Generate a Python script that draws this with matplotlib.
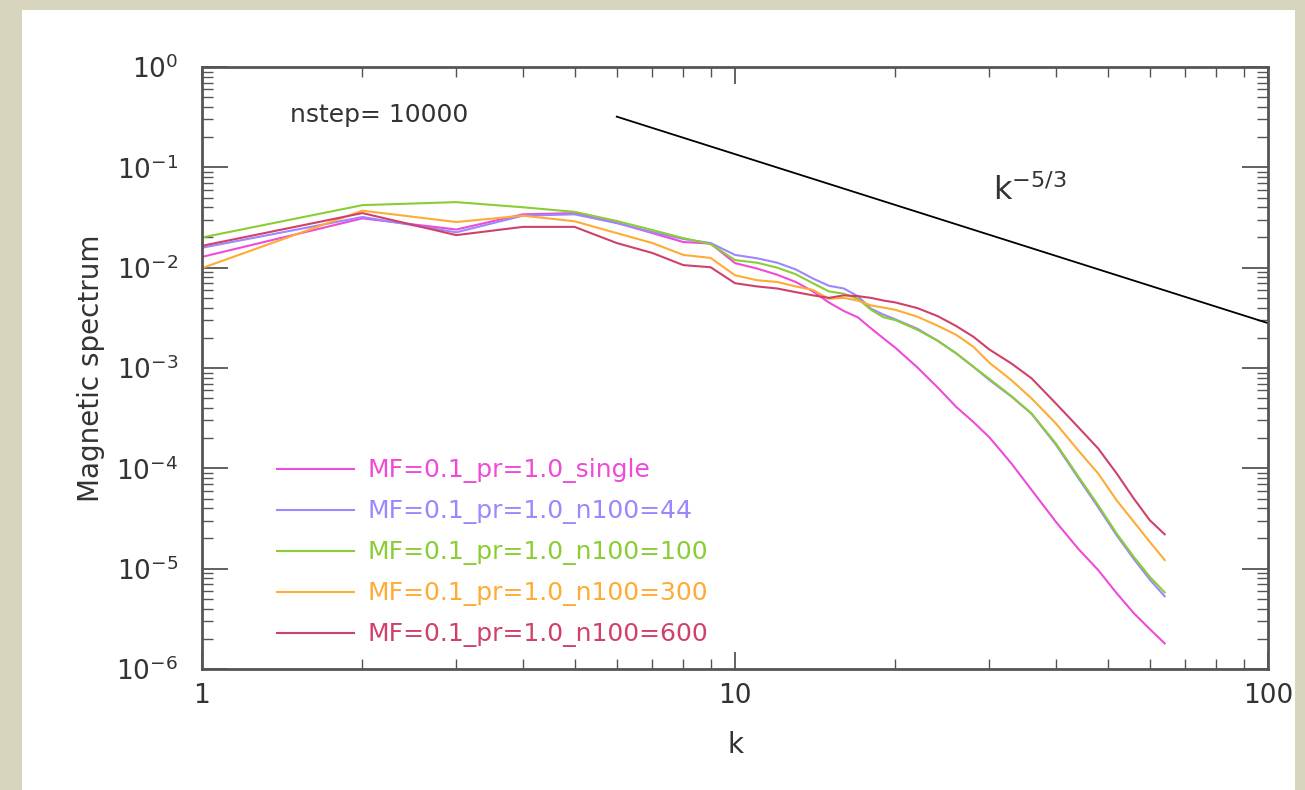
import matplotlib
matplotlib.use("Agg")
import matplotlib.pyplot as plt
from matplotlib.patches import Rectangle
from matplotlib.ticker import LogLocator, NullFormatter

# wavenumbers
k = [1, 2, 3, 4, 5, 6, 7, 8, 9, 10, 11, 12, 13, 14, 15, 16, 17, 18, 19, 20,
     22, 24, 26, 28, 30, 33, 36, 40, 44, 48, 52, 56, 60, 64]

E_single = [1.28e-2, 3.1e-2, 2.4e-2, 3.4e-2, 3.5e-2, 2.8e-2, 2.21e-2, 1.8e-2, 1.74e-2, 1.11e-2,
            9.8e-3, 8.5e-3, 7.2e-3, 5.8e-3, 4.5e-3, 3.7e-3, 3.2e-3, 2.48e-3, 1.97e-3, 1.59e-3,
            1.01e-3, 6.4e-4, 4.1e-4, 2.9e-4, 2.04e-4, 1.12e-4, 6.1e-5, 2.93e-5, 1.59e-5, 9.7e-6,
            5.7e-6, 3.6e-6, 2.5e-6, 1.8e-6]
E_n44 = [1.58e-2, 3.2e-2, 2.25e-2, 3.3e-2, 3.4e-2, 2.78e-2, 2.26e-2, 1.93e-2, 1.76e-2, 1.34e-2,
         1.24e-2, 1.12e-2, 9.6e-3, 7.8e-3, 6.6e-3, 6.2e-3, 5.2e-3, 3.9e-3, 3.4e-3, 3.05e-3,
         2.46e-3, 1.87e-3, 1.4e-3, 1.03e-3, 7.6e-4, 5.2e-4, 3.5e-4, 1.72e-4, 8.1e-5, 4.1e-5,
         2.15e-5, 1.25e-5, 7.8e-6, 5.3e-6]
E_n100 = [2.0e-2, 4.2e-2, 4.5e-2, 4.0e-2, 3.6e-2, 2.92e-2, 2.37e-2, 1.97e-2, 1.72e-2, 1.19e-2,
          1.12e-2, 1.0e-2, 8.6e-3, 7.0e-3, 5.8e-3, 5.5e-3, 4.9e-3, 3.8e-3, 3.2e-3, 3.0e-3,
          2.4e-3, 1.87e-3, 1.4e-3, 1.03e-3, 7.8e-4, 5.25e-4, 3.52e-4, 1.77e-4, 8.4e-5, 4.3e-5,
          2.24e-5, 1.31e-5, 8.3e-6, 5.8e-6]
E_n300 = [9.9e-3, 3.7e-2, 2.85e-2, 3.3e-2, 2.9e-2, 2.21e-2, 1.76e-2, 1.34e-2, 1.25e-2, 8.4e-3,
          7.5e-3, 7.2e-3, 6.5e-3, 6.0e-3, 4.9e-3, 5.0e-3, 4.7e-3, 4.2e-3, 4.0e-3, 3.8e-3,
          3.24e-3, 2.64e-3, 2.14e-3, 1.63e-3, 1.13e-3, 7.57e-4, 4.98e-4, 2.8e-4, 1.52e-4, 8.9e-5,
          4.8e-5, 2.93e-5, 1.85e-5, 1.22e-5]
E_n600 = [1.65e-2, 3.5e-2, 2.11e-2, 2.55e-2, 2.55e-2, 1.76e-2, 1.4e-2, 1.06e-2, 1.01e-2, 7.0e-3,
          6.5e-3, 6.2e-3, 5.7e-3, 5.3e-3, 5.0e-3, 5.3e-3, 5.2e-3, 5.0e-3, 4.7e-3, 4.5e-3,
          3.95e-3, 3.29e-3, 2.62e-3, 2.05e-3, 1.53e-3, 1.11e-3, 7.9e-4, 4.43e-4, 2.59e-4, 1.58e-4,
          8.9e-5, 5.0e-5, 3.04e-5, 2.2e-5]

series = [E_single, E_n44, E_n100, E_n300, E_n600]
labels = ["MF=0.1_pr=1.0_single", "MF=0.1_pr=1.0_n100=44", "MF=0.1_pr=1.0_n100=100",
          "MF=0.1_pr=1.0_n100=300", "MF=0.1_pr=1.0_n100=600"]
colors = ["#f04ad8", "#9d86ff", "#8acd35", "#ffab35", "#d0416a"]

# k^-5/3 guide line
ref_k = [6, 100]
ref_E = [0.32, 0.0028]

xtick_vals = [1, 10, 100]
xtick_labels = ["1", "10", "100"]

plt.rcParams["font.family"] = ["DejaVu Sans"]
text_col = "#333333"

fig = plt.figure(figsize=(13.05, 7.9), dpi=100, facecolor="#d8d5bf")
fig.patches.append(Rectangle((22 / 1305, 0), (1295 - 22) / 1305, 1 - 10 / 790,
                             transform=fig.transFigure, facecolor="white",
                             edgecolor="none", zorder=-5))

ax = fig.add_axes([202 / 1305, 1 - 669 / 790, (1268 - 202) / 1305, (669 - 67) / 790])
ax.set_facecolor("white")

for E, lab, c in zip(series, labels, colors):
    ax.plot(k, E, color=c, lw=1.5, label=lab)

ax.plot(ref_k, ref_E, color="black", lw=1.3)

ax.set_xscale("log")
ax.set_yscale("log")
ax.set_xlim(1, 100)
ax.set_ylim(1e-6, 1)

ax.set_xticks(xtick_vals, labels=xtick_labels)
ax.xaxis.set_minor_locator(LogLocator(base=10, subs=range(2, 10)))
ax.xaxis.set_minor_formatter(NullFormatter())
ax.yaxis.set_major_locator(LogLocator(base=10, numticks=10))
ax.yaxis.set_minor_locator(LogLocator(base=10, subs=range(2, 10), numticks=10))
ax.yaxis.set_minor_formatter(NullFormatter())

ax.tick_params(which="both", direction="in", top=True, right=True, colors="#555555",
               labelcolor=text_col, labelsize=19)
ax.tick_params(axis="y", which="major", length=19, width=1.3, pad=17)
ax.tick_params(axis="y", which="minor", length=8, width=1.0)
ax.tick_params(axis="x", which="major", length=12, width=1.3, pad=10)
ax.tick_params(axis="x", which="minor", length=7, width=1.0)
for s in ax.spines.values():
    s.set_color("#555555")
    s.set_linewidth(2)

ax.set_xlabel("k", fontsize=20, color=text_col, labelpad=16)
ax.set_ylabel("Magnetic spectrum", fontsize=20, color=text_col, labelpad=8)

ax.text(0.083, 0.92, "nstep= 10000", transform=ax.transAxes, fontsize=18,
        color=text_col, va="center", ha="left")
ax.text(0.742, 0.795, r"k$^{\mathregular{-5/3}}$", transform=ax.transAxes, fontsize=23,
        color=text_col, va="center", ha="left")

leg = ax.legend(loc="upper left", bbox_to_anchor=(0.07, 0.35), frameon=False,
                fontsize=18, handlelength=3.1, handletextpad=0.55, labelspacing=0.64,
                labelcolor="linecolor", borderaxespad=0, borderpad=0)

fig.savefig("out.png", dpi=100, facecolor=fig.get_facecolor())
